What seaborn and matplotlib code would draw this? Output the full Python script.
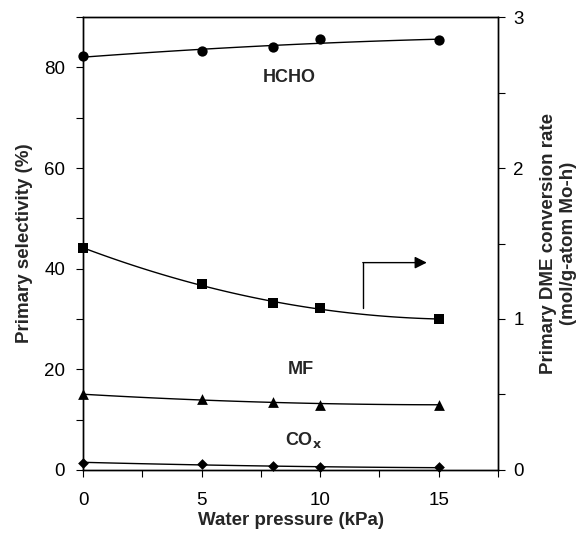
import numpy as np
import pandas as pd
import matplotlib
matplotlib.use("Agg")
import matplotlib.pyplot as plt
from matplotlib.ticker import MultipleLocator
import seaborn as sns

# Data
water_kpa = [0, 5, 8, 10, 15]
hcho_sel = [82.2, 83.2, 84.0, 85.6, 85.4]
mf_sel = [15.0, 14.0, 13.5, 13.0, 13.0]
cox_sel = [1.45, 1.2, 0.7, 0.5, 0.5]
dme_rate = [1.47, 1.23, 1.105, 1.07, 1.0]

sns.set_style("ticks")
plt.rcParams['font.family'] = ['Liberation Sans', 'DejaVu Sans']

fig = plt.figure(figsize=(5.81, 5.34), dpi=100)
ax = fig.add_axes([0.143, 0.120, 0.714, 0.848])
ax2 = ax.twinx()

df = pd.DataFrame({"x": water_kpa, "hcho": hcho_sel, "mf": mf_sel,
                   "cox": cox_sel, "rate": dme_rate})

lk = dict(color="black", lw=1.0)
for col, mk, ms in [("hcho", "o", 55), ("mf", "^", 60), ("cox", "D", 30)]:
    sns.regplot(data=df, x="x", y=col, order=2, ci=None, scatter=False,
                truncate=True, line_kws=lk, ax=ax)
    sns.scatterplot(data=df, x="x", y=col, marker=mk, s=ms, color="black",
                    edgecolor="black", linewidth=0, ax=ax, zorder=5, clip_on=False)

sns.regplot(data=df, x="x", y="rate", order=2, ci=None, scatter=False,
            truncate=True, line_kws=lk, ax=ax2)
sns.scatterplot(data=df, x="x", y="rate", marker="s", s=55, color="black",
                edgecolor="black", linewidth=0, ax=ax2, zorder=5, clip_on=False)

ax.set_xlim(0, 17.5)
ax.set_ylim(0, 90)
ax2.set_ylim(0, 3)

ax.xaxis.set_major_locator(MultipleLocator(5))
ax.xaxis.set_minor_locator(MultipleLocator(2.5))
ax.yaxis.set_major_locator(MultipleLocator(20))
ax.yaxis.set_minor_locator(MultipleLocator(10))
ax2.yaxis.set_major_locator(MultipleLocator(1))
ax2.yaxis.set_minor_locator(MultipleLocator(0.5))

for a in (ax, ax2):
    for s in a.spines.values():
        s.set_visible(True)
        s.set_linewidth(1.0)
        s.set_color("black")
    a.tick_params(which="both", direction="out", length=5, width=0.8,
                  colors="black", labelsize=13.5)
ax.tick_params(axis="y", which="both", right=False, pad=8)
ax2.tick_params(axis="y", pad=6)
ax.tick_params(axis="x", which="minor", labelbottom=False)
ax.tick_params(axis="x", pad=11)

ax.set_xlabel("Water pressure (kPa)", fontsize=13.5, fontweight="bold", labelpad=2)
ax.set_ylabel("Primary selectivity (%)", fontsize=13.5, fontweight="bold", labelpad=8)
ax2.set_ylabel("Primary DME conversion rate\n(mol/g-atom Mo-h)", fontsize=13.5,
               fontweight="bold", labelpad=12)

ax.text(8.7, 78, "HCHO", fontsize=13, fontweight="bold", ha="center", va="center")
ax.text(9.2, 20, "MF", fontsize=13, fontweight="bold", ha="center", va="center")
ax.text(9.3, 6, "CO$_\\mathbf{x}$", fontsize=13, fontweight="bold", ha="center", va="center")

ax.plot([11.8, 11.8], [32.2, 41.2], color="black", lw=1.0)
ax.annotate("", xy=(14.5, 41.2), xytext=(11.8, 41.2),
            arrowprops=dict(arrowstyle="-|>", color="black", lw=1.0,
                            mutation_scale=18, shrinkA=0, shrinkB=0))

ax.set_zorder(ax2.get_zorder() + 1)
ax.patch.set_visible(False)

fig.savefig("out.png", dpi=100)
